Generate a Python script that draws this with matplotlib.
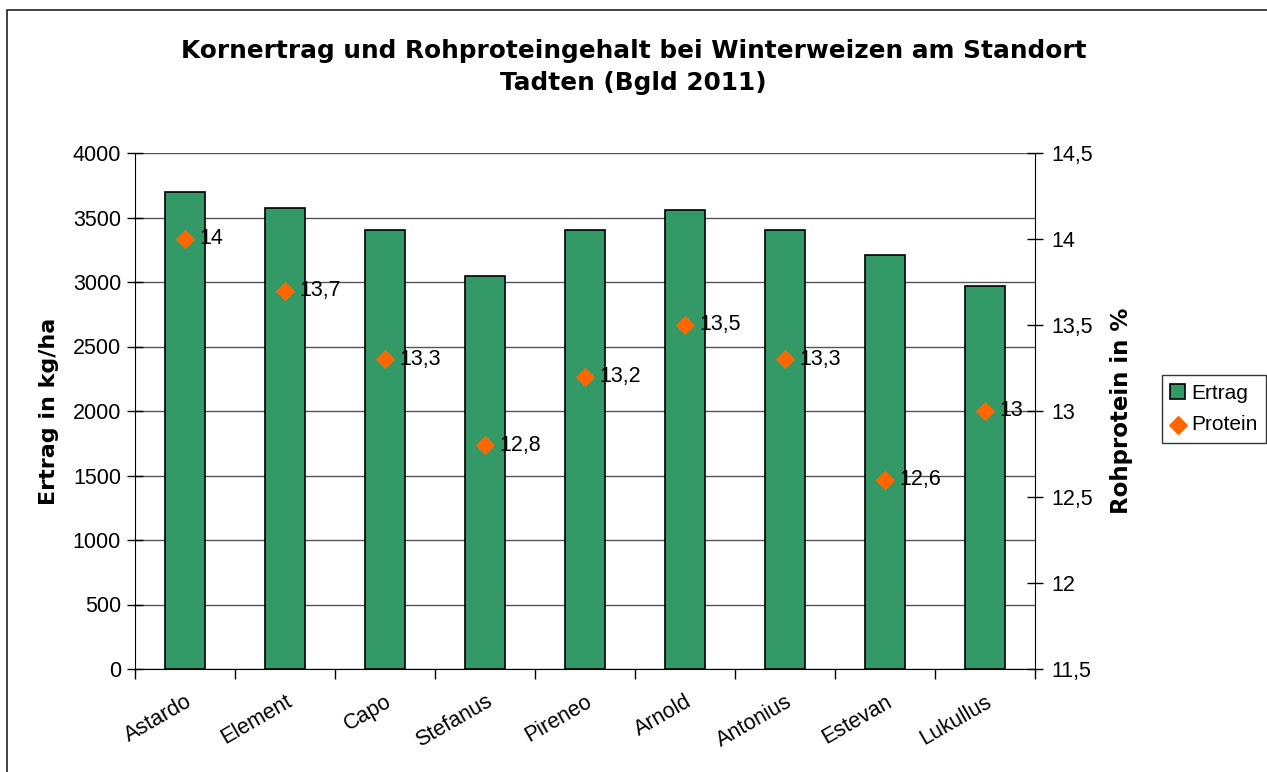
import matplotlib.pyplot as plt
from matplotlib.patches import Rectangle

# Sorten und Werte
sorten = ['Astardo', 'Element', 'Capo', 'Stefanus', 'Pireneo',
          'Arnold', 'Antonius', 'Estevan', 'Lukullus']
ertrag = [3700, 3570, 3400, 3050, 3400, 3560, 3400, 3210, 2970]
protein = [14, 13.7, 13.3, 12.8, 13.2, 13.5, 13.3, 12.6, 13]
protein_labels = ['14', '13,7', '13,3', '12,8', '13,2', '13,5', '13,3', '12,6', '13']

left_ticks = [0, 500, 1000, 1500, 2000, 2500, 3000, 3500, 4000]
right_ticks = [11.5, 12, 12.5, 13, 13.5, 14, 14.5]
right_tick_labels = ['11,5', '12', '12,5', '13', '13,5', '14', '14,5']

plt.rcParams['font.family'] = ['Liberation Sans', 'DejaVu Sans']

fig = plt.figure(figsize=(12.67, 7.72), dpi=100)
ax = fig.add_axes([135 / 1267, 1 - 669 / 772, 900 / 1267, 516 / 772])

# outer chart frame
fig.patches.append(Rectangle((7 / 1267, -0.1), 1.2, 1.1 - 10 / 772, transform=fig.transFigure,
                             fill=False, edgecolor='#222222', linewidth=1.2))

x = list(range(len(sorten)))
ax.bar(x, ertrag, width=0.4, color='#339966', edgecolor='black', linewidth=1.2,
       zorder=3, label='Ertrag')
ax.set_xlim(-0.5, len(sorten) - 0.5)
ax.set_ylim(0, 4000)
ax.set_yticks(left_ticks)
ax.tick_params(axis='y', direction='inout', length=12, labelsize=15.5, width=1, pad=4)
ax.set_xticks([i + 0.5 for i in range(-1, len(sorten))])
ax.set_xticklabels([])
ax.tick_params(axis='x', direction='out', length=7, width=1)
ax.set_xticks(x, minor=True)
ax.set_xticklabels(sorten, minor=True, rotation=30, ha='right', fontsize=15.5,
                   rotation_mode='anchor')
ax.tick_params(axis='x', which='minor', length=0, pad=16)
ax.grid(axis='y', color='#555555', linewidth=1, zorder=0)
ax.set_ylabel('Ertrag in kg/ha', fontsize=16, fontweight='bold', labelpad=10,
              family='DejaVu Sans')
for s in ['top', 'right']:
    ax.spines[s].set_visible(False)

ax2 = ax.twinx()
ax2.scatter(x, protein, marker='D', s=80, color='#FF6600', zorder=4, label='Protein')
for xi, p, lab in zip(x, protein, protein_labels):
    ax2.annotate(lab, (xi, p), xytext=(10, 0), textcoords='offset points',
                 va='center', ha='left', fontsize=15.5)
ax2.set_ylim(11.5, 14.5)
ax2.set_yticks(right_ticks)
ax2.set_yticklabels(right_tick_labels)
ax2.tick_params(axis='y', direction='inout', length=12, labelsize=15.5, width=1, pad=6)
ax2.set_ylabel('Rohprotein in %', fontsize=16.5, fontweight='bold', labelpad=12,
               family='DejaVu Sans')
for s in ['top', 'left', 'bottom']:
    ax2.spines[s].set_visible(False)

fig.text(0.5, 1 - 67 / 772,
         'Kornertrag und Rohproteingehalt bei Winterweizen am Standort\nTadten (Bgld 2011)',
         ha='center', va='center', fontsize=17.8, fontweight='bold', linespacing=1.4,
         family='DejaVu Sans')

h1, l1 = ax.get_legend_handles_labels()
h2, l2 = ax2.get_legend_handles_labels()
fig.legend(h1 + h2, l1 + l2, loc='center', bbox_to_anchor=(1214 / 1267, 1 - 409 / 772),
           fontsize=15, frameon=True, fancybox=False, edgecolor='black',
           handlelength=0.7, handletextpad=0.3, borderpad=0.4, labelspacing=0.6,
           borderaxespad=0)

fig.savefig('out.png', dpi=100)
